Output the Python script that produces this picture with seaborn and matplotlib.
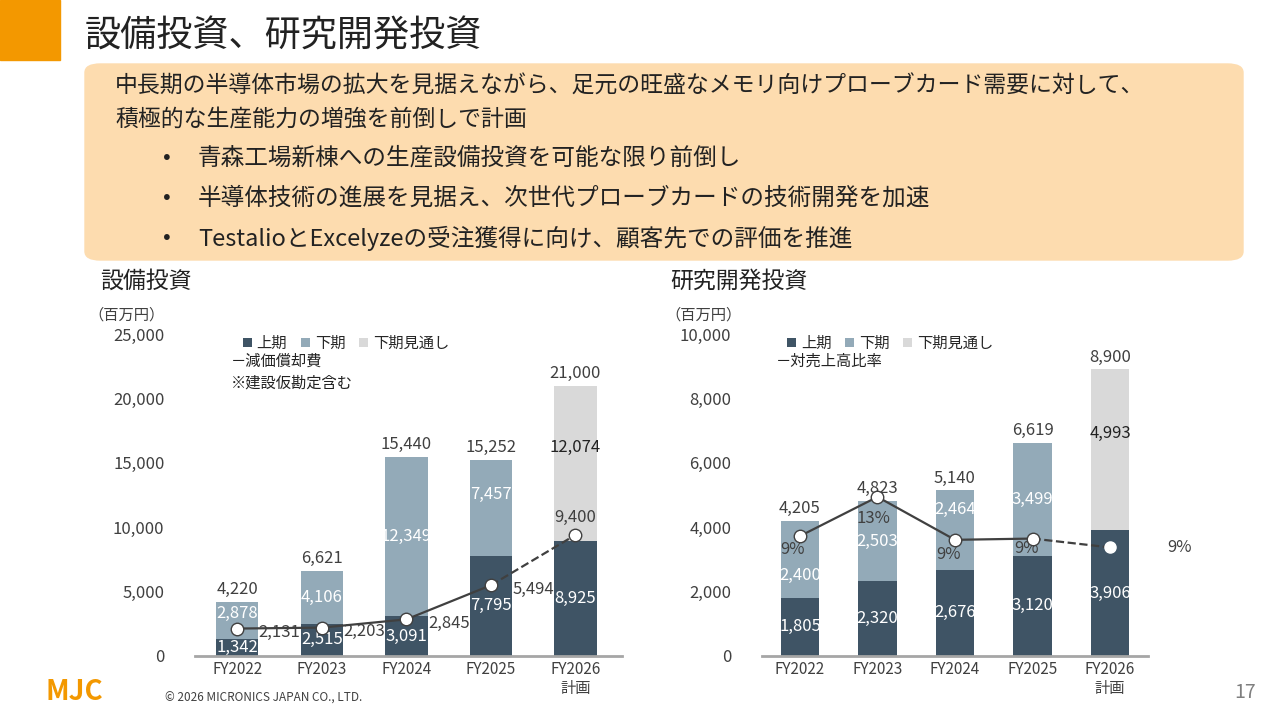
import matplotlib.pyplot as plt
import seaborn as sns
from matplotlib.patches import FancyBboxPatch, Rectangle

years = ['FY2022', 'FY2023', 'FY2024', 'FY2025', 'FY2026\n計画']

capex_h1 = [1342, 2515, 3091, 7795, 8925]
capex_h2 = [2878, 4106, 12349, 7457, 0]
capex_h2_fc = [0, 0, 0, 0, 12074]
capex_total = [4220, 6621, 15440, 15252, 21000]
depreciation = [2131, 2203, 2845, 5494, 9400]

rd_h1 = [1805, 2320, 2676, 3120, 3906]
rd_h2 = [2400, 2503, 2464, 3499, 0]
rd_h2_fc = [0, 0, 0, 0, 4993]
rd_total = [4205, 4823, 5140, 6619, 8900]
rd_ratio = [9.5, 12.6, 9.2, 9.3, 8.6]
rd_ratio_labels = ['9%', '13%', '9%', '9%', '9%']

DARK = '#3F5465'
LIGHT = '#93AAB8'
GRAY = '#D9D9D9'
TXT = '#404040'
ORANGE = '#F39800'

sns.set_theme(style='white')
plt.rcParams['font.family'] = ['Noto Sans CJK JP', 'DejaVu Sans']

fig = plt.figure(figsize=(12.8, 7.2), dpi=100)

# header
fig.add_artist(Rectangle((0, 1 - 60 / 720), 60 / 1280, 60 / 720, color=ORANGE,
                         transform=fig.transFigure))
fig.text(85 / 1280, 1 - 37 / 720, '設備投資、研究開発投資', fontsize=26, va='center', color='#222222')
fig.add_artist(FancyBboxPatch((85 / 1280, 1 - 260 / 720), 1158 / 1280, 196 / 720,
                              boxstyle='round,pad=0,rounding_size=0.012',
                              color='#FDDCAF', transform=fig.transFigure, zorder=0))
fig.text(115 / 1280, 1 - 86 / 720, '中長期の半導体市場の拡大を見据えながら、足元の旺盛なメモリ向けプローブカード需要に対して、',
         fontsize=16.5, va='center', color='#222222')
fig.text(115 / 1280, 1 - 119 / 720, '積極的な生産能力の増強を前倒しで計画', fontsize=16.5, va='center', color='#222222')
bullets = ['青森工場新棟への生産設備投資を可能な限り前倒し',
           '半導体技術の進展を見据え、次世代プローブカードの技術開発を加速',
           'TestalioとExcelyzeの受注獲得に向け、顧客先での評価を推進']
for i, b in enumerate(bullets):
    y = 1 - (158 + 40 * i) / 720
    fig.text(163 / 1280, y, '•', fontsize=16.5, va='center', color='#222222')
    fig.text(198 / 1280, y, b, fontsize=17, va='center', color='#222222')

fig.text(100 / 1280, 1 - 281 / 720, '設備投資', fontsize=16.5, va='center', color='#222222')
fig.text(670 / 1280, 1 - 281 / 720, '研究開発投資', fontsize=16.5, va='center', color='#222222')


def stacked(ax, h1, h2, h2fc, total, ymax, step, xlim, width, h2_shift):
    kw = dict(width=width, ax=ax, saturation=1, linewidth=0)
    sns.barplot(x=years, y=h1, color=DARK, label='上期', **kw)
    sns.barplot(x=years, y=h2, bottom=h1, color=LIGHT, label='下期', **kw)
    sns.barplot(x=years, y=h2fc, bottom=h1, color=GRAY, label='下期見通し', **kw)
    ax.set_ylim(0, ymax)
    ax.set_xlim(*xlim)
    ax.set_yticks(range(0, ymax + 1, step))
    ax.set_yticklabels([f'{v:,}' for v in range(0, ymax + 1, step)], fontsize=12, color=TXT)
    ax.tick_params(axis='x', labelsize=11, colors=TXT, length=0)
    ax.tick_params(axis='y', length=0, pad=22)
    for s in ['top', 'right', 'left']:
        ax.spines[s].set_visible(False)
    ax.spines['bottom'].set_color('#A6A6A6')
    ax.spines['bottom'].set_linewidth(2)
    ax.set_facecolor('none')
    for i in range(len(years)):
        ax.text(i, total[i] + ymax * 0.012, f'{total[i]:,}', ha='center', va='bottom', fontsize=12, color=TXT)
        ax.text(i, h1[i] / 2, f'{h1[i]:,}', ha='center', va='center', fontsize=12, color='white')
        if h2[i]:
            ax.text(i, h1[i] + h2[i] / 2 + h2_shift[i] * ymax, f'{h2[i]:,}',
                    ha='center', va='center', fontsize=12, color='white')
        if h2fc[i]:
            ax.text(i, h1[i] + h2fc[i] * 0.6, f'{h2fc[i]:,}', ha='center', va='center', fontsize=12, color='#222222')
    ax.text(-0.25, 1.045, '（百万円）', transform=ax.transAxes, fontsize=11, color=TXT)


# capex
ax1 = fig.add_axes([195 / 1280, 64 / 720, 427 / 1280, 322 / 720])
stacked(ax1, capex_h1, capex_h2, capex_h2_fc, capex_total, 25000, 5000, (-0.5, 4.55), 0.5,
        [0.022, 0, 0, 0.042, 0])
ax1.plot(range(4), depreciation[:4], color='#404040', lw=1.6, marker='o', ms=9,
         mfc='white', mec='#404040', zorder=5)
ax1.plot([3, 4], depreciation[3:], color='#404040', lw=1.6, ls='--', zorder=4)
ax1.plot([4], depreciation[4:], marker='o', ms=9, mfc='white', mec='#404040', ls='none', zorder=5)
for i, v in enumerate(depreciation[:4]):
    ax1.text(i + 0.5, v - 300, f'{v:,}', ha='center', va='center', fontsize=12, color=TXT)
ax1.text(4, depreciation[4] + 700, f'{depreciation[4]:,}', ha='center', va='bottom', fontsize=12, color=TXT)
ax1.legend(loc='upper left', bbox_to_anchor=(0.08, 1.04), ncol=3, frameon=False, fontsize=11,
           handlelength=0.6, handleheight=0.6, handletextpad=0.3, columnspacing=0.9)
ax1.text(0.085, 0.9, '－減価償却費', transform=ax1.transAxes, fontsize=11, color='#222222')
ax1.text(0.085, 0.835, '※建設仮勘定含む', transform=ax1.transAxes, fontsize=11, color='#222222')

# R&D
ax2 = fig.add_axes([762 / 1280, 64 / 720, 386 / 1280, 322 / 720])
stacked(ax2, rd_h1, rd_h2, rd_h2_fc, rd_total, 10000, 2000, (-0.49, 4.49), 0.5,
        [-0.05, 0, 0.064, 0, 0])
ax2.legend(loc='upper left', bbox_to_anchor=(0.03, 1.04), ncol=3, frameon=False, fontsize=11,
           handlelength=0.6, handleheight=0.6, handletextpad=0.3, columnspacing=0.9)
ax2.text(0.035, 0.9, '－対売上高比率', transform=ax2.transAxes, fontsize=11, color='#222222')
ax2r = ax2.twinx()
ax2r.set_ylim(0, 25.5)
ax2r.axis('off')
ax2r.plot(range(4), rd_ratio[:4], color='#404040', lw=1.6, marker='o', ms=9,
          mfc='white', mec='#404040', zorder=5)
ax2r.plot([3, 4], rd_ratio[3:], color='#404040', lw=1.6, ls='--', zorder=4)
ax2r.plot([4], rd_ratio[4:], marker='o', ms=8, mfc='white', mec='white', ls='none', zorder=5)
offsets = [(-0.1, -1.05), (-0.05, -1.75), (-0.08, -1.2), (-0.08, -0.8), (0.9, 0.0)]
for i, lab in enumerate(rd_ratio_labels):
    dx, dy = offsets[i]
    ax2r.text(i + dx, rd_ratio[i] + dy, lab, ha='center', va='center', fontsize=12, color=TXT)

# footer
fig.text(45 / 1280, 1 - 692 / 720, 'MJC', fontsize=20, fontweight='bold', color=ORANGE,
         va='center', style='italic')
fig.text(165 / 1280, 1 - 698 / 720, '© 2026 MICRONICS JAPAN CO., LTD.', fontsize=8.5, color=TXT, va='center')
fig.text(1245 / 1280, 1 - 692 / 720, '17', fontsize=14, color='#7F7F7F', va='center', ha='center')

fig.savefig('out.png', dpi=100)
